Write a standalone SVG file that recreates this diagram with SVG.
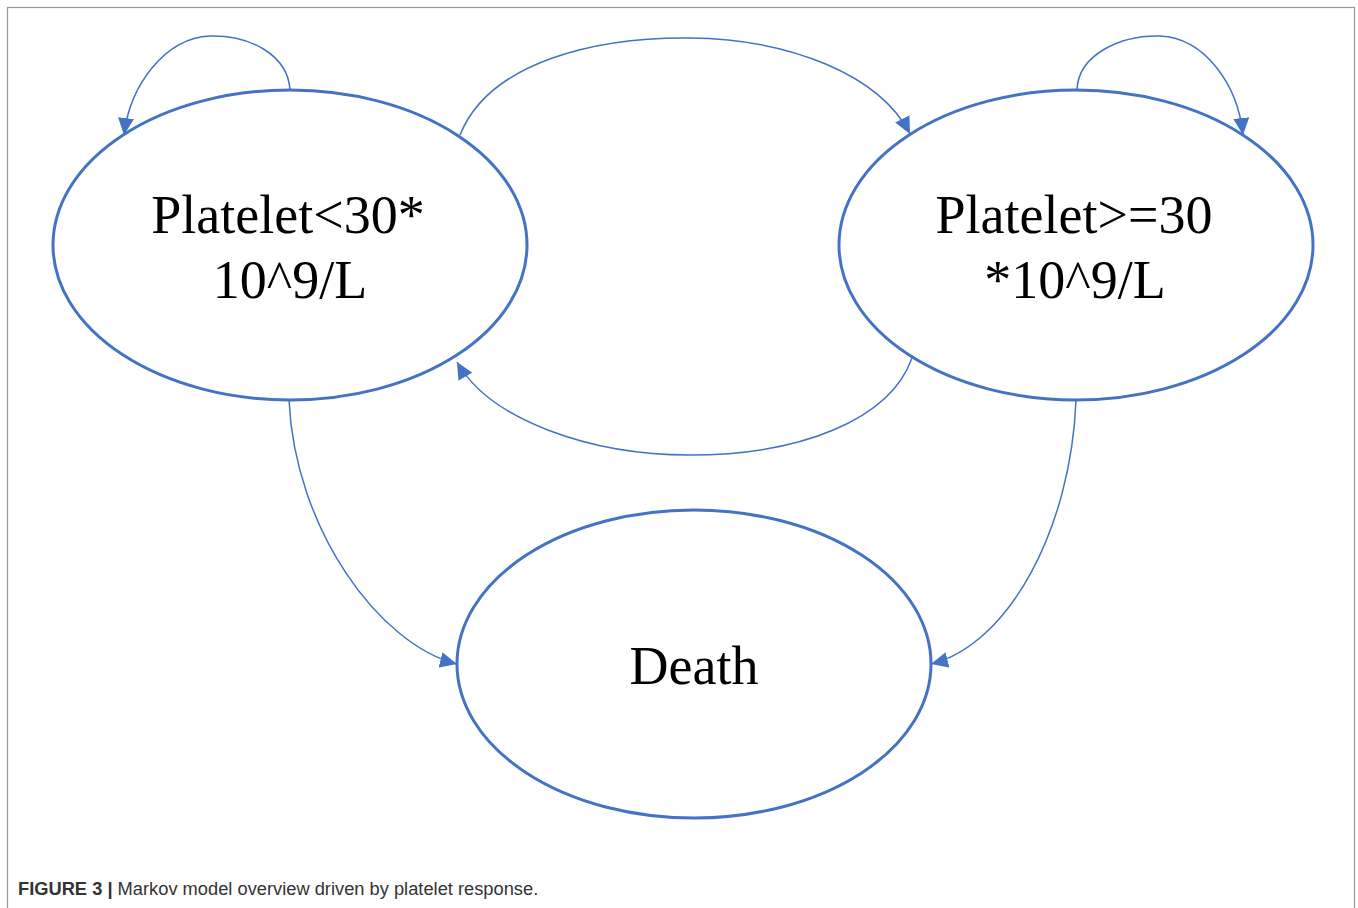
<svg xmlns="http://www.w3.org/2000/svg" width="1358" height="908" viewBox="0 0 1358 908">
<style>
.node{fill:#fff;stroke:#4472C4;stroke-width:3}
.lbl{font-family:"Liberation Serif","Times New Roman",serif;font-size:54px;fill:#000;text-anchor:middle}
.edge{fill:none;stroke:#4472C4;stroke-width:1.5;marker-end:url(#arr)}
.cap{font-family:"Liberation Sans",Arial,sans-serif;font-size:18.3px;fill:#333}
</style>
<defs>
<marker id="arr" markerUnits="userSpaceOnUse" markerWidth="18" markerHeight="16" refX="17" refY="8" orient="auto">
<path d="M0,0 L17,8 L0,16 z" fill="#4472C4"/>
</marker>
</defs>
<rect x="0" y="0" width="1358" height="908" fill="#fff"/>
<rect x="7.5" y="7.5" width="1347" height="1000" fill="none" stroke="#999" stroke-width="1.2"/>
<g id="connectors">
<path class="edge" d="M290,90 C288,55 250,35 210,36 C165,38 130,85 124,135"/>
<path class="edge" d="M1077,90 C1078,55 1120,35 1160,36 C1205,38 1238,85 1243,135"/>
<path class="edge" d="M460,135 C490,60 600,37 690,38 C790,39 880,75 910,134"/>
<path class="edge" d="M912,358 C890,420 800,455 690,455 C590,455 490,420 457,362"/>
<path class="edge" d="M289,400 C295,530 380,645 457,664"/>
<path class="edge" d="M1076,400 C1071,530 1008,645 931,664"/>
</g>
<g id="node-low">
<ellipse class="node" cx="290" cy="245" rx="237" ry="155"/>
<text class="lbl" x="288" y="233">Platelet&lt;30*</text>
<text class="lbl" x="290" y="298">10^9/L</text>
</g>
<g id="node-high">
<ellipse class="node" cx="1076" cy="245" rx="237" ry="155"/>
<text class="lbl" x="1074" y="233">Platelet&gt;=30</text>
<text class="lbl" x="1075" y="298">*10^9/L</text>
</g>
<g id="node-death">
<ellipse class="node" cx="694" cy="664" rx="237" ry="154"/>
<text class="lbl" x="694" y="684">Death</text>
</g>
<text class="cap" x="18" y="895"><tspan font-weight="bold">FIGURE 3 |</tspan> Markov model overview driven by platelet response.</text>
</svg>
